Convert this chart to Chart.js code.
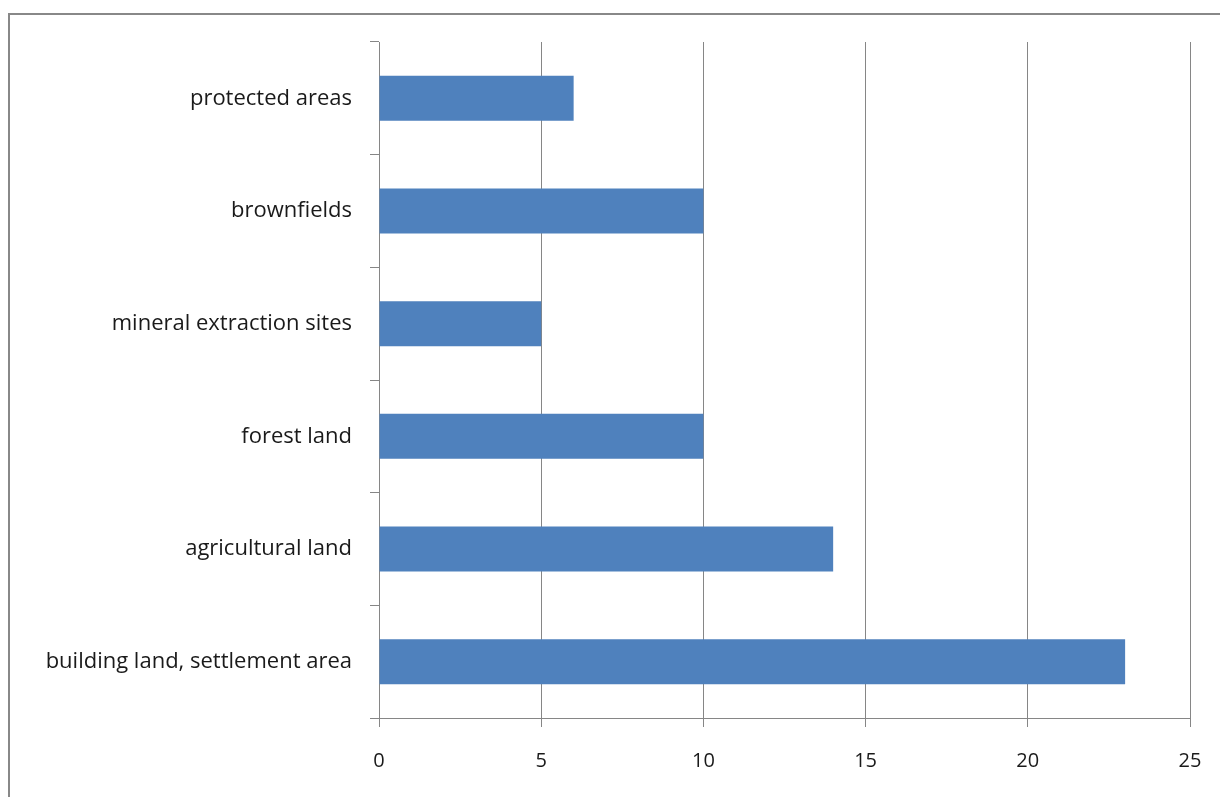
<!DOCTYPE html>
<html>
<head>
<meta charset="utf-8">
<script src="https://cdn.jsdelivr.net/npm/chart.js@4/dist/chart.umd.min.js"></script>
<style>
  html, body { margin: 0; padding: 0; background: #fff; overflow: hidden; }
  #frame {
    position: absolute; left: 8px; top: 13px; width: 1300px; height: 900px;
    border-left: 2px solid #888; border-top: 2px solid #888;
  }
  #chart { position: absolute; left: 0; top: 0; }
</style>
</head>
<body>
<div id="frame"></div>
<canvas id="chart" width="1220" height="797"></canvas>
<script>
// --- DATI ---
const categories = [
  "protected areas",
  "brownfields",
  "mineral extraction sites",
  "forest land",
  "agricultural land",
  "building land, settlement area"
];
const values = [6, 10, 5, 10, 14, 23];
const xTicks = [0, 5, 10, 15, 20, 25];

const axisGray = "#868686";

new Chart(document.getElementById("chart"), {
  type: "bar",
  data: {
    labels: categories,
    datasets: [{
      data: values,
      backgroundColor: "#4F81BD",
      borderWidth: 0,
      barPercentage: 0.4,
      categoryPercentage: 1
    }]
  },
  options: {
    indexAxis: "y",
    responsive: false,
    animation: false,
    layout: { padding: { left: 0, top: 42, right: 30, bottom: 0 } },
    plugins: { legend: { display: false }, tooltip: { enabled: false } },
    scales: {
      x: {
        min: xTicks[0],
        max: xTicks[xTicks.length - 1],
        afterBuildTicks: s => { s.ticks = xTicks.map(v => ({ value: v })); },
        afterFit: s => { s.height = 79; s.paddingRight = 0; },
        grid: { color: axisGray, lineWidth: 1, tickLength: 9 },
        border: { color: axisGray, width: 1 },
        ticks: { color: "#1a1a1a", padding: 22, font: { family: "Open Sans", size: 20 } }
      },
      y: {
        afterFit: s => { s.width = 379; },
        grid: { offset: true, drawOnChartArea: false, color: axisGray, tickLength: 9 },
        border: { color: axisGray, width: 1 },
        ticks: { color: "#1a1a1a", padding: 18, font: { family: "Open Sans", size: 22 } }
      }
    }
  }
});
</script>
</body>
</html>
